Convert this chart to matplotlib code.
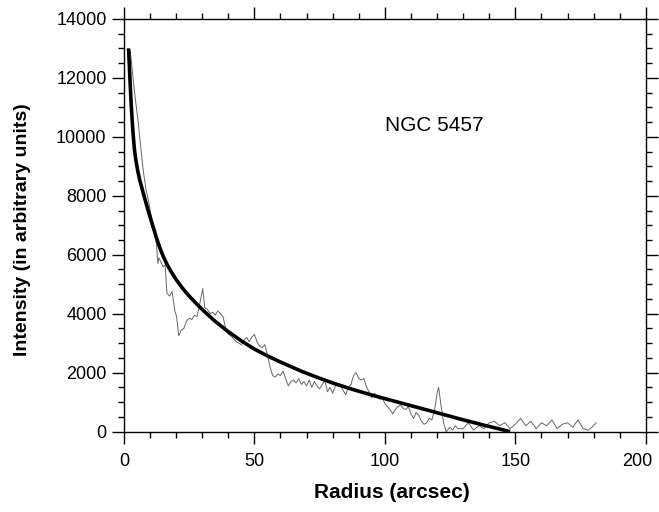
import matplotlib
matplotlib.use("Agg")
import matplotlib.pyplot as plt
from matplotlib.ticker import MultipleLocator

plt.rcParams['font.family'] = ['Liberation Sans', 'DejaVu Sans']

# Fitted (smooth) profile
fit_radius = [1.8, 2.3, 2.8, 3.4, 4.0, 4.6, 5.3, 6.0, 6.6, 7.8,
              9.2, 10.8, 12.4, 13.6, 15.0, 16.5, 18.0, 20.0, 22.5, 25.0,
              28.0, 31.0, 35.0, 40.0, 45.0, 50.0, 55.0, 60.0, 68.0, 75.0,
              80.0, 87.0, 95.0, 100.0, 110.0, 118.0, 125.0, 130.0, 137.0, 143.0,
              148.0]
fit_intensity = [13000, 12000, 11100, 10250, 9600, 9200, 8850, 8560, 8360, 7970,
                 7530, 7060, 6600, 6280, 5960, 5680, 5440, 5160, 4860, 4600,
                 4320, 4060, 3740, 3390, 3080, 2800, 2570, 2360, 2050, 1810,
                 1650, 1450, 1240, 1120, 880, 690, 520, 400, 240, 110,
                 0]

obs_radius = [1.5, 2.5, 3.5, 4.5, 5.5, 6.5, 7.5, 8.5, 9.5, 10.5,
              11.5, 12.5, 13.0, 13.4, 15.0, 15.8, 16.5, 17.5, 18.5, 19.5,
              20.2, 21.0, 22.0, 23.0, 24.0, 25.0, 26.0, 27.0, 28.0, 29.0,
              30.2, 31.0, 32.0, 33.0, 34.0, 35.0, 36.0, 37.0, 38.0, 39.0,
              40.0, 41.0, 42.0, 43.0, 44.0, 45.0, 46.0, 47.0, 48.0, 49.0,
              50.0, 51.0, 52.0, 53.0, 54.0, 55.0, 56.0, 57.0, 58.0, 59.0,
              60.0, 61.0, 62.0, 63.0, 64.0, 65.0, 66.0, 67.0, 68.0, 69.0,
              70.0, 71.0, 72.0, 73.0, 74.0, 75.0, 76.0, 77.0, 78.0, 79.0,
              80.0, 81.0, 82.0, 83.0, 84.0, 85.0, 86.0, 87.0, 88.0, 89.0,
              90.0, 91.0, 92.0, 93.0, 94.0, 95.0, 96.0, 97.0, 98.0, 99.0,
              100.0, 101.0, 102.0, 103.0, 104.0, 105.0, 106.0, 107.0, 108.0, 109.0,
              110.0, 111.0, 112.0, 113.0, 114.0, 115.0, 116.0, 117.0, 118.0, 119.0,
              120.0, 120.6, 121.5, 122.5, 123.5, 125.0, 126.0, 127.0, 128.0, 130.0,
              132.0, 134.0, 136.0, 138.0, 140.0, 142.0, 144.0, 146.0, 148.0, 150.0,
              152.0, 154.0, 156.0, 158.0, 160.0, 162.0, 164.0, 166.0, 168.0, 170.0,
              172.0, 174.0, 176.0, 178.0, 180.0, 181.0]
obs_intensity = [13000, 12900, 12000, 11200, 10500, 9600, 8800, 8200, 7800, 7300,
                 6800, 6350, 5700, 5900, 5600, 5650, 4700, 4600, 4750, 4100,
                 3900, 3250, 3450, 3500, 3750, 3850, 3800, 3950, 3900, 4300,
                 4850, 4200, 4150, 4000, 4050, 3950, 4100, 4000, 3900, 3500,
                 3300, 3250, 3150, 3050, 3000, 2950, 3100, 3200, 3050, 3200,
                 3300, 3050, 2900, 2850, 2950, 2600, 2200, 1900, 1850, 1950,
                 1900, 2050, 1800, 1550, 1700, 1750, 1650, 1800, 1600, 1700,
                 1550, 1750, 1500, 1700, 1550, 1450, 1600, 1750, 1350, 1500,
                 1300, 1550, 1600, 1550, 1400, 1250, 1500, 1600, 1900, 2000,
                 1800, 1750, 1800, 1500, 1350, 1150, 1300, 1200, 1100, 1150,
                 950, 850, 750, 600, 750, 850, 900, 800, 750, 850,
                 600, 450, 650, 550, 350, 250, 300, 450, 400, 700,
                 1300, 1500, 900, 300, 0, 150, 50, 200, 100, 100,
                 300, 50, 200, 100, 300, 350, 200, 300, 100, 250,
                 450, 200, 350, 100, 300, 200, 400, 100, 250, 300,
                 150, 400, 100, 50, 200, 300]

label_text = "NGC 5457"
x_ticks = [0, 50, 100, 150, 200]
x_tick_labels = ["0", "50", "100", "150", "200"]
y_ticks = [0, 2000, 4000, 6000, 8000, 10000, 12000, 14000]

fig = plt.figure(figsize=(6.59, 5.12), dpi=100)
ax = fig.add_axes([0.188, 0.157, 0.792, 0.806])

ax.plot(obs_radius, obs_intensity, color='#666666', lw=0.7, zorder=2)
ax.plot(fit_radius, fit_intensity, color='black', lw=2.6, zorder=3,
        solid_capstyle='butt', solid_joinstyle='round')

ax.set_xlim(0, 200)
ax.set_ylim(0, 14000)
ax.set_xticks(x_ticks)
# last label is drawn separately, nudged left so it stays inside the figure
ax.set_xticklabels(x_tick_labels[:-1] + [""])
ax.set_yticks(y_ticks)
ax.xaxis.set_minor_locator(MultipleLocator(10))
ax.yaxis.set_minor_locator(MultipleLocator(500))
ax.tick_params(which='both', direction='out', top=True, right=True,
               width=1.0, labelsize=13)
ax.tick_params(which='major', length=8.5)
ax.tick_params(which='minor', length=4.5)
ax.tick_params(axis='x', which='major', pad=7)
ax.tick_params(axis='y', which='major', pad=4)
for s in ax.spines.values():
    s.set_linewidth(1.0)

ax.annotate(x_tick_labels[-1], xy=(x_ticks[-1], 0),
            xycoords=('data', 'axes fraction'), xytext=(-6, -15.5),
            textcoords='offset points', ha='center', va='top', fontsize=13,
            annotation_clip=False)

ax.set_xlabel("Radius (arcsec)", fontsize=15, fontweight='bold')
ax.xaxis.set_label_coords(0.514, -0.124)
ax.xaxis.label.set_va('top')
ax.set_ylabel("Intensity (in arbitrary units)", fontsize=14, fontweight='bold')
ax.yaxis.set_label_coords(-0.178, 0.49)
ax.text(100, 10400, label_text, fontsize=15, ha='left', va='center')

fig.savefig("out.png", dpi=100)
